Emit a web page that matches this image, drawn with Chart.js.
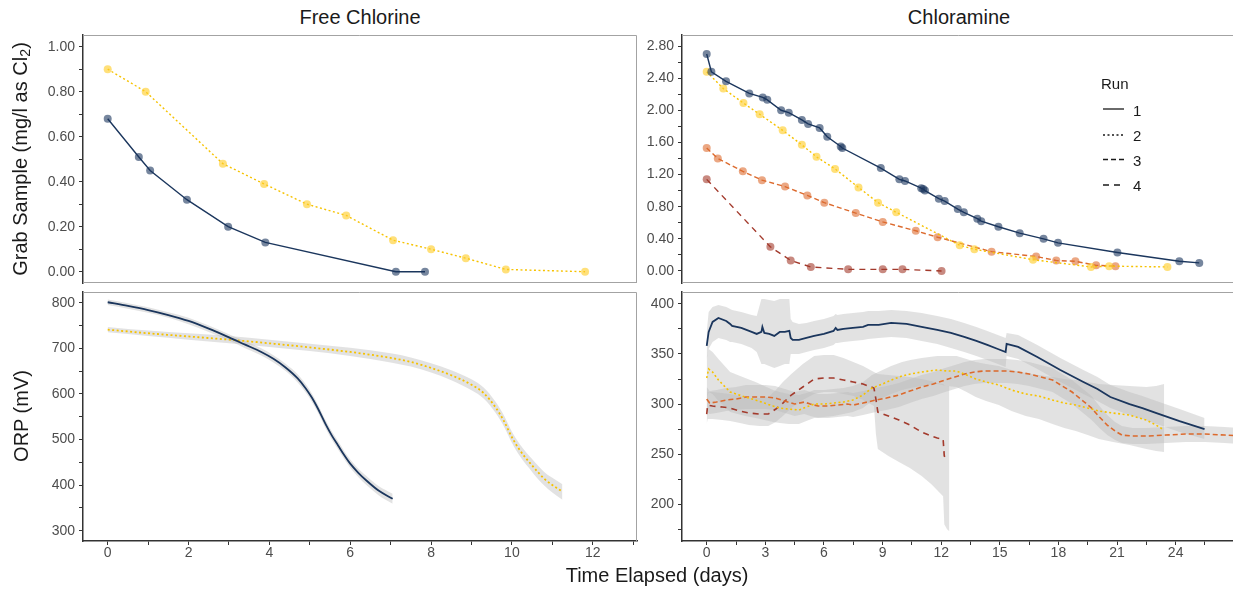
<!DOCTYPE html>
<html>
<head>
<meta charset="utf-8">
<script src="https://cdn.jsdelivr.net/npm/chart.js@4.4.1/dist/chart.umd.min.js"></script>
<style>
  html, body { margin: 0; padding: 0; background: #fff; overflow: hidden; }
  #wrap { position: relative; width: 1233px; height: 590px; overflow: hidden;
          font-family: "Liberation Sans", Arial, Helvetica, sans-serif; color: #1a1a1a; }
  canvas { position: absolute; }
  .txt { position: absolute; white-space: nowrap; transform: translate(-50%, -50%); line-height: 1; }
  .rot { transform: translate(-50%, -50%) rotate(-90deg); }
  .leg { position: absolute; white-space: nowrap; font-size: 15px; line-height: 1; transform: translateY(-50%); }
  sub { font-size: 0.72em; vertical-align: -0.25em; }
</style>
</head>
<body>
<div id="wrap">
  <canvas id="freeGrab" width="640" height="260" style="left:0px;top:30px"></canvas>
  <canvas id="chlorGrab" width="610" height="260" style="left:640px;top:30px"></canvas>
  <canvas id="freeOrp" width="640" height="305" style="left:0px;top:285px"></canvas>
  <canvas id="chlorOrp" width="610" height="305" style="left:640px;top:285px"></canvas>

  <div class="txt" style="left:360px;top:17px;font-size:20px">Free Chlorine</div>
  <div class="txt" style="left:959px;top:17px;font-size:20px">Chloramine</div>
  <div class="txt rot" style="left:21px;top:159px;font-size:20px">Grab Sample (mg/l as Cl<sub>2</sub>)</div>
  <div class="txt rot" style="left:21px;top:416px;font-size:20px">ORP (mV)</div>
  <div class="txt" style="left:657px;top:575px;font-size:20px">Time Elapsed (days)</div>

  <div class="leg" style="left:1101px;top:83px">Run</div>
  <svg style="position:absolute;left:1100px;top:100px" width="28" height="95">
    <line x1="3" y1="9" x2="24" y2="9" stroke="#1a1a1a" stroke-width="1.3"/>
    <line x1="3" y1="35" x2="24" y2="35" stroke="#1a1a1a" stroke-width="1.3" stroke-dasharray="2 2.5"/>
    <line x1="3" y1="59.5" x2="24" y2="59.5" stroke="#1a1a1a" stroke-width="1.3" stroke-dasharray="5 3"/>
    <line x1="3" y1="85" x2="24" y2="85" stroke="#1a1a1a" stroke-width="1.3" stroke-dasharray="6 5"/>
  </svg>
  <div class="leg" style="left:1133px;top:110px">1</div>
  <div class="leg" style="left:1133px;top:135px">2</div>
  <div class="leg" style="left:1133px;top:160px">3</div>
  <div class="leg" style="left:1133px;top:185px">4</div>
</div>

<script>
// ---------- Free chlorine grab samples (mg/l as Cl2) ----------
const freeGrabT1 = [0, 0.77, 1.05, 1.96, 2.98, 3.9, 7.13, 7.85];
const freeGrab1  = [0.68, 0.51, 0.45, 0.32, 0.20, 0.13, 0.00, 0.00];
const freeGrabT2 = [0, 0.94, 2.85, 3.87, 4.93, 5.9, 7.06, 8.0, 8.86, 9.85, 11.81];
const freeGrab2  = [0.90, 0.80, 0.48, 0.39, 0.30, 0.25, 0.14, 0.10, 0.06, 0.01, 0.00];

// ---------- Chloramine grab samples ----------
const chlorGrabT1 = [0, 0.24, 0.99, 2.18, 2.87, 3.1, 3.81, 4.2, 4.87, 5.19, 5.78, 6.17, 6.86, 6.94, 8.91, 9.86,
                     10.15, 10.98, 11.08, 11.17, 11.88, 12.18, 12.85, 13.16, 13.85, 14.05, 14.93, 16.02, 17.24,
                     17.98, 21.02, 24.19, 25.21];
const chlorGrab1  = [2.70, 2.48, 2.36, 2.21, 2.16, 2.13, 2.00, 1.97, 1.88, 1.83, 1.78, 1.67, 1.55, 1.53, 1.28, 1.14,
                     1.12, 1.03, 1.02, 1.00, 0.90, 0.87, 0.77, 0.73, 0.65, 0.62, 0.55, 0.47, 0.40,
                     0.35, 0.23, 0.12, 0.10];
const chlorGrabT2 = [0, 0.85, 1.88, 2.71, 3.89, 4.87, 5.62, 6.57, 7.77, 8.77, 9.7, 12.95, 13.7, 16.7, 19.67, 20.6, 23.58];
const chlorGrab2  = [2.48, 2.27, 2.09, 1.95, 1.75, 1.57, 1.42, 1.27, 1.04, 0.85, 0.73, 0.32, 0.27, 0.14, 0.05, 0.06, 0.05];
const chlorGrabT3 = [0, 0.57, 1.85, 2.83, 4.01, 5.15, 6.02, 7.63, 9.01, 10.7, 11.82, 14.58, 16.86, 17.89, 18.87, 19.93, 20.92];
const chlorGrab3  = [1.53, 1.40, 1.24, 1.13, 1.05, 0.94, 0.85, 0.72, 0.61, 0.50, 0.42, 0.24, 0.18, 0.13, 0.12, 0.07, 0.06];
const chlorGrabT4 = [0, 3.26, 4.3, 5.33, 7.24, 9.01, 10.02, 12.02];
const chlorGrab4  = [1.14, 0.30, 0.13, 0.05, 0.02, 0.02, 0.02, 0.00];

// ---------- Free chlorine ORP (mV) with confidence band ----------
const freeOrpT1  = [0, 0.5, 1, 1.5, 2, 2.5, 3, 3.4, 3.8, 4.1, 4.4, 4.7, 4.9, 5.05, 5.2, 5.4, 5.55, 5.7, 5.85, 6.0, 6.2, 6.4, 6.7, 7.05];
const freeOrp1   = [801, 793, 784, 773, 760, 743, 724, 708, 692, 677, 658, 634, 612, 592, 568, 532, 508, 487, 466, 447, 427, 410, 388, 370];
const freeOrpLo1 = [795, 787, 778, 767, 753, 736, 717, 700, 684, 669, 650, 625, 603, 583, 559, 523, 499, 478, 457, 438, 418, 400, 378, 359];
const freeOrpHi1 = [807, 799, 790, 779, 767, 750, 731, 716, 700, 685, 666, 643, 621, 601, 577, 541, 517, 496, 475, 456, 436, 420, 398, 381];
const freeOrpT2  = [0, 1, 2, 3, 4, 5, 6, 7, 7.5, 8, 8.5, 9, 9.3, 9.6, 9.8, 10.0, 10.2, 10.5, 10.8, 11.0, 11.25];
const freeOrp2   = [741, 733, 726, 719, 711, 702, 692, 679, 670, 657, 641, 620, 602, 570, 541, 505, 476, 443, 414, 400, 386];
const freeOrpLo2 = [735, 727, 719, 711, 703, 694, 683, 669, 660, 647, 630, 608, 590, 558, 529, 493, 463, 429, 399, 384, 368];
const freeOrpHi2 = [747, 739, 733, 727, 719, 710, 701, 689, 680, 667, 652, 632, 614, 582, 553, 517, 489, 457, 429, 416, 402];

// ---------- Chloramine ORP (mV) with confidence band ----------
const chlorOrpT1  = [0, 0.1, 0.3, 0.6, 1.0, 1.2, 1.3, 1.77, 2.3, 2.56, 2.8, 2.85, 2.95, 3.2, 3.46, 3.74, 4.0, 4.23, 4.3, 4.4,
                     4.72, 5.1, 5.5, 6.0, 6.49, 6.6, 6.69, 7.0, 7.48, 8.0, 8.26, 8.8, 9.44, 10.23, 11.0, 11.8, 12.5, 13.18,
                     13.8, 14.36, 14.9, 15.3, 15.35, 15.94, 16.92, 18.1, 19.28, 20.0, 20.66, 21.64, 22.3, 23.02, 24.2, 25.48];
const chlorOrp1   = [358, 372, 382, 386, 383, 380, 378, 376, 372, 370, 372, 377, 371, 370, 368, 372, 372, 373, 366, 364,
                     364, 366, 368, 370, 373, 376, 374, 375, 376, 377, 379, 379, 381, 380, 377, 374, 371, 367,
                     363, 359, 355, 352, 360, 357, 347, 334, 322, 315, 307, 300, 296, 291, 283, 275];
const chlorOrpLo1 = [345, 355, 362, 366, 364, 362, 362, 360, 356, 352, 340, 340, 340, 338, 336, 338, 340, 340, 350, 350,
                     350, 352, 354, 356, 359, 361, 361, 362, 363, 364, 365, 366, 367, 366, 363, 360, 356, 352,
                     348, 344, 340, 337, 348, 345, 335, 322, 310, 303, 296, 289, 285, 280, 272, 265];
const chlorOrpHi1 = [372, 392, 397, 399, 397, 395, 394, 392, 389, 388, 405, 405, 405, 404, 403, 405, 405, 405, 385, 382,
                     380, 381, 383, 385, 388, 390, 389, 390, 391, 392, 393, 393, 394, 393, 391, 388, 385, 381,
                     377, 373, 369, 366, 371, 369, 359, 346, 334, 327, 319, 312, 308, 303, 295, 286];

const chlorOrpT2  = [0, 0.1, 0.3, 0.6, 1.2, 1.97, 2.5, 2.95, 3.4, 3.74, 4.2, 4.72, 5.1, 5.5, 6.0, 6.49, 7.0, 7.48, 8.0, 8.46,
                     9.0, 9.44, 10.0, 10.43, 11.0, 11.8, 12.3, 12.79, 13.3, 13.77, 14.3, 14.95, 15.6, 16.33, 17.0, 17.7,
                     18.3, 18.89, 19.5, 20.07, 20.8, 21.64, 22.5, 23.0, 23.41];
const chlorOrp2   = [326, 335, 332, 324, 312, 307, 304, 301, 298, 296, 295, 294, 297, 300, 300, 301, 302, 304, 309, 316,
                     320, 324, 328, 330, 332, 334, 333, 333, 329, 325, 322, 319, 314, 310, 308, 304,
                     301, 299, 296, 293, 291, 289, 284, 279, 274];
const chlorOrpLo2 = [305, 312, 310, 303, 292, 288, 286, 284, 282, 281, 280, 280, 283, 286, 287, 288, 290, 292, 296, 303,
                     306, 310, 314, 316, 318, 320, 318, 317, 312, 307, 303, 299, 293, 288, 285, 280,
                     276, 273, 269, 265, 262, 259, 255, 253, 252];
const chlorOrpHi2 = [347, 355, 352, 345, 332, 326, 322, 318, 314, 312, 310, 309, 311, 314, 314, 315, 316, 318, 322, 329,
                     334, 338, 342, 344, 346, 348, 348, 348, 345, 342, 340, 338, 334, 331, 329, 327,
                     325, 324, 322, 320, 319, 318, 317, 318, 320];

const chlorOrpT3  = [0, 0.15, 0.5, 1.0, 1.5, 2.0, 2.5, 3.0, 3.5, 4.0, 4.5, 5.0, 5.3, 5.7, 6.2, 6.7, 7.2, 7.5, 8.0, 8.66,
                     9.2, 9.84, 10.4, 11.0, 11.6, 12.2, 12.7, 13.2, 13.7, 14.2, 14.8, 15.35, 15.9, 16.5, 17.1, 17.7,
                     18.2, 18.7, 19.2, 19.7, 20.1, 20.5, 20.9, 21.25, 21.8, 22.5, 23.5, 24.5, 25.5, 26.5, 27.5];
const chlorOrp3   = [305, 301, 302, 304, 305, 307, 307, 307, 306, 303, 300, 302, 300, 298, 298, 299, 300, 299, 301, 304,
                     306, 309, 313, 317, 320, 324, 327, 330, 332, 333, 333, 333, 332, 330, 327, 324,
                     318, 312, 304, 296, 287, 279, 273, 269, 268, 268, 269, 270, 270, 269, 268];
const chlorOrpLo3 = [293, 290, 291, 293, 294, 295, 295, 295, 294, 291, 288, 290, 288, 286, 286, 287, 288, 287, 289, 292,
                     294, 297, 301, 305, 308, 312, 315, 318, 320, 321, 321, 321, 320, 318, 315, 312,
                     306, 300, 292, 284, 276, 269, 264, 261, 260, 260, 261, 262, 262, 261, 260];
const chlorOrpHi3 = [317, 313, 314, 316, 317, 319, 319, 319, 318, 315, 312, 314, 312, 310, 310, 311, 312, 311, 313, 316,
                     318, 321, 325, 329, 332, 336, 339, 342, 344, 345, 345, 345, 344, 342, 339, 336,
                     330, 324, 316, 308, 298, 289, 282, 278, 276, 276, 277, 278, 278, 277, 276];

const chlorOrpT4  = [0, 0.05, 0.3, 0.8, 1.2, 1.7, 2.16, 2.7, 3.15, 3.54, 3.9, 4.33, 4.92, 5.5, 6.0, 6.5, 7.0, 7.5, 8.0, 8.56,
                     8.66, 8.76, 9.3, 9.84, 10.4, 11.0, 11.5, 11.8, 12.1, 12.16, 12.3, 12.42];
const chlorOrp4   = [290, 299, 298, 297, 296, 293, 291, 290, 290, 295, 301, 309, 317, 325, 326, 326, 324, 322, 320, 316,
                     305, 292, 288, 284, 279, 272, 268, 266, 265, 248, 246, 246];
const chlorOrpLo4 = [280, 285, 285, 284, 283, 281, 279, 278, 278, 282, 288, 296, 304, 310, 312, 312, 310, 308, 304, 298,
                     270, 255, 248, 242, 236, 228, 220, 214, 208, 180, 175, 173];
const chlorOrpHi4 = [305, 312, 312, 311, 310, 308, 306, 306, 307, 314, 322, 330, 340, 348, 349, 349, 346, 342, 338, 332,
                     331, 330, 329, 328, 327, 325, 323, 321, 320, 319, 318, 318];

// ---------- styling ----------
const FONT = '"Liberation Sans", Arial, Helvetica, sans-serif';
const RUN_LINE  = ['#1b365d', '#f6c200', '#dc6a2d', '#a33a2c'];
const RUN_POINT = ['rgba(27,54,93,0.6)', 'rgba(255,205,40,0.62)', 'rgba(222,108,48,0.6)', 'rgba(163,58,44,0.6)'];
const RUN_DASH  = [[], [2, 2.5], [5, 3], [6, 5]];
const BAND = 'rgba(185,185,185,0.42)';

function pts(t, v) { return t.map((x, i) => ({ x: x, y: v[i] })); }

function runLine(run, t, v, width, withPoints, smooth) {
  const ds = {
    data: pts(t, v), borderColor: RUN_LINE[run], borderWidth: width, borderDash: RUN_DASH[run],
    pointRadius: withPoints ? 4 : 0, pointBackgroundColor: RUN_POINT[run],
    pointBorderWidth: 0, pointBorderColor: 'rgba(0,0,0,0)', fill: false, tension: 0, order: 1
  };
  if (smooth) ds.cubicInterpolationMode = 'monotone';
  return ds;
}

// lower edge (invisible) followed by upper edge filled down to it
function addBand(list, t, lo, hi, smooth) {
  const idx = list.length;
  const mode = smooth ? 'monotone' : 'default';
  list.push({ data: pts(t, lo), borderColor: 'rgba(0,0,0,0)', borderWidth: 1, pointRadius: 0, fill: false,
              order: 5, cubicInterpolationMode: mode });
  list.push({ data: pts(t, hi), borderColor: 'rgba(0,0,0,0)', borderWidth: 1, pointRadius: 0,
              fill: { target: idx }, backgroundColor: BAND, order: 5, cubicInterpolationMode: mode });
}

// label only the major ticks, and nothing past the last visible one
function tickLabel(major, digits, lastLabel) {
  return function (v) {
    const k = v / major;
    if (lastLabel !== undefined && v > lastLabel) return '';
    return Math.abs(k - Math.round(k)) < 1e-6 ? Number(v).toFixed(digits) : '';
  };
}

function fixBox(s) { s.paddingTop = 0; s.paddingBottom = 0; s.paddingLeft = 0; s.paddingRight = 0; }

function axisCommon(minor, major, digits, lastLabel) {
  return {
    type: 'linear',
    border: { display: true, color: '#333333', width: 1.5 },
    grid: { display: true, drawOnChartArea: false, drawTicks: true, tickLength: 4, color: '#333333', lineWidth: 1 },
    ticks: { stepSize: minor, autoSkip: false, includeBounds: false, maxTicksLimit: 200,
             color: '#4d4d4d', font: { family: FONT, size: 14 }, callback: tickLabel(major, digits, lastLabel) }
  };
}

function yAxis(min, max, minor, major, digits, width) {
  const a = axisCommon(minor, major, digits);
  a.position = 'left'; a.min = min; a.max = max;
  a.ticks.padding = 4;
  a.afterFit = function (s) { s.width = width; fixBox(s); };
  return a;
}

function xAxis(min, max, minor, major, height, lastLabel) {
  const a = axisCommon(minor, major, 0, lastLabel);
  a.position = 'bottom'; a.min = min; a.max = max;
  a.ticks.padding = 0;
  a.afterFit = function (s) { s.height = height; fixBox(s); };
  return a;
}

function hiddenX(min, max) { return { type: 'linear', min: min, max: max, display: false }; }

// light panel outline on the sides not covered by an axis line
const panelFrame = {
  id: 'panelFrame',
  beforeDatasetsDraw(chart) {
    const a = chart.chartArea, g = chart.ctx;
    g.save();
    g.strokeStyle = '#a3a3a3';
    g.lineWidth = 1;
    g.beginPath();
    g.moveTo(a.left, a.top + 0.5);
    g.lineTo(a.right - 0.5, a.top + 0.5);
    g.lineTo(a.right - 0.5, a.bottom);
    if (chart.options.scales.x.display === false) {
      g.moveTo(a.left, a.bottom - 0.5);
      g.lineTo(a.right, a.bottom - 0.5);
    }
    g.stroke();
    g.restore();
  }
};

function makeChart(id, datasets, xs, ys, pad) {
  return new Chart(document.getElementById(id), {
    type: 'line',
    data: { datasets: datasets },
    options: {
      responsive: false, maintainAspectRatio: false, animation: false, events: [], devicePixelRatio: 1,
      layout: { padding: pad, autoPadding: false },
      plugins: { legend: { display: false }, tooltip: { enabled: false }, filler: { drawTime: 'beforeDatasetsDraw' } },
      scales: { x: xs, y: ys }
    },
    plugins: [panelFrame]
  });
}

// x ranges of the two columns
const FREE_X = [-0.611, 13.095];
const CHLOR_X = [-1.264, 27.09];

// top-left: free chlorine grab samples
makeChart('freeGrab', [
  runLine(0, freeGrabT1, freeGrab1, 1.4, true),
  runLine(1, freeGrabT2, freeGrab2, 1.4, true)
], hiddenX(FREE_X[0], FREE_X[1]), yAxis(-0.0502, 1.052, 0.1, 0.2, 2, 83),
   { top: 5, right: 3, bottom: 7, left: 0 });

// top-right: chloramine grab samples
makeChart('chlorGrab', [
  runLine(0, chlorGrabT1, chlorGrab1, 1.4, true),
  runLine(1, chlorGrabT2, chlorGrab2, 1.4, true),
  runLine(2, chlorGrabT3, chlorGrab3, 1.4, true),
  runLine(3, chlorGrabT4, chlorGrab4, 1.4, true)
], hiddenX(CHLOR_X[0], CHLOR_X[1]), yAxis(-0.15, 2.937, 0.2, 0.4, 2, 42),
   { top: 5, right: 14, bottom: 7, left: 0 });

// bottom-left: free chlorine ORP
const freeOrpSets = [];
addBand(freeOrpSets, freeOrpT1, freeOrpLo1, freeOrpHi1, true);
addBand(freeOrpSets, freeOrpT2, freeOrpLo2, freeOrpHi2, true);
freeOrpSets.push(runLine(0, freeOrpT1, freeOrp1, 1.8, false, true));
freeOrpSets.push(runLine(1, freeOrpT2, freeOrp2, 1.8, false, true));
makeChart('freeOrp', freeOrpSets,
  xAxis(FREE_X[0], FREE_X[1], 1, 2, 49), yAxis(277.4, 823.5, 50, 100, 0, 83),
  { top: 7, right: 3, bottom: 0, left: 0 });

// bottom-right: chloramine ORP
const chlorOrpSets = [];
addBand(chlorOrpSets, chlorOrpT1, chlorOrpLo1, chlorOrpHi1, false);
addBand(chlorOrpSets, chlorOrpT2, chlorOrpLo2, chlorOrpHi2, false);
addBand(chlorOrpSets, chlorOrpT3, chlorOrpLo3, chlorOrpHi3, false);
addBand(chlorOrpSets, chlorOrpT4, chlorOrpLo4, chlorOrpHi4, false);
chlorOrpSets.push(runLine(0, chlorOrpT1, chlorOrp1, 1.8, false, false));
chlorOrpSets.push(runLine(1, chlorOrpT2, chlorOrp2, 1.6, false, false));
chlorOrpSets.push(runLine(2, chlorOrpT3, chlorOrp3, 1.6, false, false));
chlorOrpSets.push(runLine(3, chlorOrpT4, chlorOrp4, 1.6, false, false));
makeChart('chlorOrp', chlorOrpSets,
  xAxis(CHLOR_X[0], CHLOR_X[1], 1.5, 3, 49, 24), yAxis(163.2, 411.9, 25, 50, 0, 42),
  { top: 7, right: 14, bottom: 0, left: 0 });
</script>
</body>
</html>
